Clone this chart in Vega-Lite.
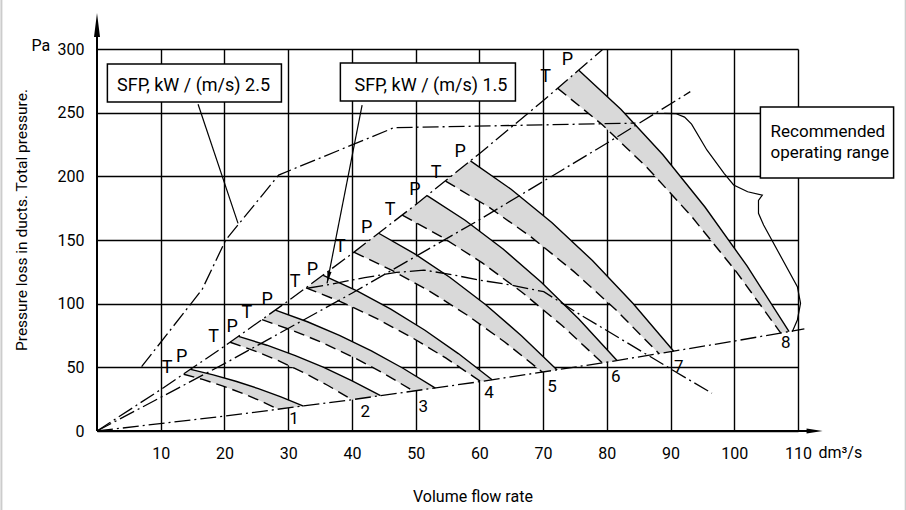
{
  "$schema": "https://vega.github.io/schema/vega-lite/v6.json",
  "width": 701,
  "height": 382,
  "autosize": {"type": "none"},
  "padding": {"left": 97, "top": 49, "right": 108, "bottom": 79},
  "background": "white",
  "config": {
    "view": {"stroke": null},
    "font": "Roboto",
    "text": {"font": "Roboto", "color": "#000"}
  },
  "datasets": {
    "bands": [
      {"c":1,"o":0,"x":14.7,"y":48.4},{"c":1,"o":1,"x":18.24,"y":44.1},{"c":1,"o":2,"x":21.78,"y":39.06},{"c":1,"o":3,"x":25.32,"y":33.28},{"c":1,"o":4,"x":28.86,"y":26.76},{"c":1,"o":5,"x":32.4,"y":19.5},
      {"c":1,"o":6,"x":28.5,"y":17.0},{"c":1,"o":7,"x":25.52,"y":23.93},{"c":1,"o":8,"x":22.54,"y":30.16},{"c":1,"o":9,"x":19.56,"y":35.68},{"c":1,"o":10,"x":16.58,"y":40.49},{"c":1,"o":11,"x":13.6,"y":44.6},
      {"c":2,"o":0,"x":22.2,"y":74.3},{"c":2,"o":1,"x":26.66,"y":67.37},{"c":2,"o":2,"x":31.12,"y":59.24},{"c":2,"o":3,"x":35.58,"y":49.92},{"c":2,"o":4,"x":40.04,"y":39.41},{"c":2,"o":5,"x":44.5,"y":27.7},
      {"c":2,"o":6,"x":40.0,"y":24.6},{"c":2,"o":7,"x":36.18,"y":35.93},{"c":2,"o":8,"x":32.36,"y":46.11},{"c":2,"o":9,"x":28.54,"y":55.13},{"c":2,"o":10,"x":24.72,"y":62.99},{"c":2,"o":11,"x":20.9,"y":69.7},
      {"c":3,"o":0,"x":28.0,"y":94.9},{"c":3,"o":1,"x":33.02,"y":85.8},{"c":3,"o":2,"x":38.04,"y":75.12},{"c":3,"o":3,"x":43.06,"y":62.88},{"c":3,"o":4,"x":48.08,"y":49.08},{"c":3,"o":5,"x":53.1,"y":33.7},
      {"c":3,"o":6,"x":49.7,"y":31.3},{"c":3,"o":7,"x":44.94,"y":45.39},{"c":3,"o":8,"x":40.18,"y":58.05},{"c":3,"o":9,"x":35.42,"y":69.27},{"c":3,"o":10,"x":30.66,"y":79.05},{"c":3,"o":11,"x":25.9,"y":87.4},
      {"c":4,"o":0,"x":35.5,"y":122.3},{"c":4,"o":1,"x":40.8,"y":110.08},{"c":4,"o":2,"x":46.1,"y":95.77},{"c":4,"o":3,"x":51.4,"y":79.35},{"c":4,"o":4,"x":56.7,"y":60.82},{"c":4,"o":5,"x":62.0,"y":40.2},
      {"c":4,"o":6,"x":60.2,"y":38.9},{"c":4,"o":7,"x":54.72,"y":57.36},{"c":4,"o":8,"x":49.24,"y":73.94},{"c":4,"o":9,"x":43.76,"y":88.64},{"c":4,"o":10,"x":38.28,"y":101.46},{"c":4,"o":11,"x":32.8,"y":112.4},
      {"c":5,"o":0,"x":44.2,"y":155.3},{"c":5,"o":1,"x":49.8,"y":139.32},{"c":5,"o":2,"x":55.4,"y":120.59},{"c":5,"o":3,"x":61.0,"y":99.11},{"c":5,"o":4,"x":66.6,"y":74.88},{"c":5,"o":5,"x":72.2,"y":47.9},
      {"c":5,"o":6,"x":69.9,"y":46.2},{"c":5,"o":7,"x":63.98,"y":69.87},{"c":5,"o":8,"x":58.06,"y":91.12},{"c":5,"o":9,"x":52.14,"y":109.96},{"c":5,"o":10,"x":46.22,"y":126.39},{"c":5,"o":11,"x":40.3,"y":140.4},
      {"c":6,"o":0,"x":51.8,"y":184.8},{"c":6,"o":1,"x":57.76,"y":165.53},{"c":6,"o":2,"x":63.72,"y":142.95},{"c":6,"o":3,"x":69.68,"y":117.05},{"c":6,"o":4,"x":75.64,"y":87.83},{"c":6,"o":5,"x":81.6,"y":55.3},
      {"c":6,"o":6,"x":79.3,"y":53.5},{"c":6,"o":7,"x":73.02,"y":82.64},{"c":6,"o":8,"x":66.74,"y":108.81},{"c":6,"o":9,"x":60.46,"y":132.01},{"c":6,"o":10,"x":54.18,"y":152.24},{"c":6,"o":11,"x":47.9,"y":169.5},
      {"c":7,"o":0,"x":58.6,"y":212.1},{"c":7,"o":1,"x":64.98,"y":189.85},{"c":7,"o":2,"x":71.36,"y":163.78},{"c":7,"o":3,"x":77.74,"y":133.88},{"c":7,"o":4,"x":84.12,"y":100.15},{"c":7,"o":5,"x":90.5,"y":62.6},
      {"c":7,"o":6,"x":88.2,"y":60.7},{"c":7,"o":7,"x":81.5,"y":94.76},{"c":7,"o":8,"x":74.8,"y":125.36},{"c":7,"o":9,"x":68.1,"y":152.48},{"c":7,"o":10,"x":61.4,"y":176.12},{"c":7,"o":11,"x":54.7,"y":196.3},
      {"c":8,"o":0,"x":75.6,"y":283.3},{"c":8,"o":1,"x":82.2,"y":252.76},{"c":8,"o":2,"x":88.8,"y":216.96},{"c":8,"o":3,"x":95.4,"y":175.92},{"c":8,"o":4,"x":102.0,"y":129.64},{"c":8,"o":5,"x":108.6,"y":78.1},
      {"c":8,"o":6,"x":107.3,"y":76.9},{"c":8,"o":7,"x":100.3,"y":125.18},{"c":8,"o":8,"x":93.3,"y":168.54},{"c":8,"o":9,"x":86.3,"y":206.98},{"c":8,"o":10,"x":79.3,"y":240.5},{"c":8,"o":11,"x":72.3,"y":269.1}
    ],
    "dashdot": [
      {"id":"A","x":0,"y":0},{"id":"A","x":10,"y":32.55},{"id":"A","x":20,"y":66.6},{"id":"A","x":30,"y":102.15},{"id":"A","x":40,"y":139.2},{"id":"A","x":50,"y":177.75},{"id":"A","x":60,"y":217.8},{"id":"A","x":70,"y":259.35},{"id":"A","x":79.3,"y":299.4},
      {"id":"B","x":0,"y":0},{"id":"B","x":20,"y":52.9},{"id":"B","x":40,"y":108.2},{"id":"B","x":60,"y":165.9},{"id":"B","x":80,"y":226},{"id":"B","x":93.1,"y":266.5},
      {"id":"bot","x":0,"y":0},{"id":"bot","x":20,"y":11.69},{"id":"bot","x":40,"y":24.59},{"id":"bot","x":60,"y":38.71},{"id":"bot","x":80,"y":54.05},{"id":"bot","x":100,"y":70.6},{"id":"bot","x":111,"y":80.22},
      {"id":"sfp25","x":7.0,"y":50.5},{"id":"sfp25","x":16.5,"y":111.2},{"id":"sfp25","x":20.2,"y":150},{"id":"sfp25","x":28.5,"y":201},{"id":"sfp25","x":46.6,"y":238.2},{"id":"sfp25","x":84.5,"y":241.8},
      {"id":"C","x":33.0,"y":112.1},{"id":"C","x":36.1,"y":114.7},{"id":"C","x":42,"y":120.5},{"id":"C","x":47,"y":124.5},{"id":"C","x":51.3,"y":126.4},{"id":"C","x":56,"y":122.5},{"id":"C","x":60,"y":118.5},{"id":"C","x":64.9,"y":114.7},{"id":"C","x":70.1,"y":109.4},{"id":"C","x":75.9,"y":91.1},{"id":"C","x":79,"y":81.9},{"id":"C","x":90.3,"y":47.9},{"id":"C","x":96.5,"y":29.6}
    ],
    "thin": [
      {"id":"L1","o":0,"x":15.86,"y":256.6},{"id":"L1","o":1,"x":22.13,"y":163.1},
      {"id":"L2","o":0,"x":41.6,"y":256.0},{"id":"L2","o":1,"x":36.1,"y":116.0},
      {"id":"R","o":0,"x":89.0,"y":249.5},{"id":"R","o":1,"x":90.8,"y":249.3},{"id":"R","o":2,"x":92.2,"y":246.5},{"id":"R","o":3,"x":93.3,"y":241},{"id":"R","o":4,"x":95.7,"y":220.7},{"id":"R","o":5,"x":98.4,"y":202.4},{"id":"R","o":6,"x":99.9,"y":193.2},{"id":"R","o":7,"x":102.1,"y":187.9},{"id":"R","o":8,"x":104.4,"y":185.3},{"id":"R","o":9,"x":103.8,"y":181},{"id":"R","o":10,"x":103.8,"y":171},{"id":"R","o":11,"x":104.6,"y":161.8},{"id":"R","o":12,"x":109.9,"y":113.3},{"id":"R","o":13,"x":110.4,"y":100.3},{"id":"R","o":14,"x":109.9,"y":87.2},{"id":"R","o":15,"x":109.1,"y":78.0}
    ]
  },
  "encoding": {
    "x": {"field": "x", "type": "quantitative", "scale": {"domain": [0, 110], "nice": false, "zero": false},
      "axis": {"values": [10,20,30,40,50,60,70,80,90,100,110], "grid": true, "gridColor": "#000", "gridWidth": 1.4, "gridOpacity": 1, "domain": false, "ticks": false, "tickSize": 0, "labelFontSize": 16, "labelColor": "#000", "labelFont": "Roboto", "labelPadding": 14, "labelFlush": false, "labelOverlap": false, "title": null}},
    "y": {"field": "y", "type": "quantitative", "scale": {"domain": [0, 300], "nice": false, "zero": false},
      "axis": {"values": [0,50,100,150,200,250,300], "grid": true, "gridColor": "#000", "gridWidth": 1.4, "gridOpacity": 1, "domain": false, "ticks": false, "tickSize": 0, "labelFontSize": 16, "labelColor": "#000", "labelFont": "Roboto", "labelPadding": 13, "labelFlush": false, "labelOverlap": false, "title": null}}
  },
  "layer": [
    {"data": {"name": "bands"}, "mark": {"type": "line", "filled": true, "color": "#d9d9d9", "interpolate": "linear-closed"},
      "encoding": {"detail": {"field": "c"}, "order": {"field": "o", "type": "quantitative"}}},
    {"data": {"name": "bands"}, "transform": [{"filter": "datum.o <= 5"}], "mark": {"type": "line", "color": "#000", "strokeWidth": 1.4},
      "encoding": {"detail": {"field": "c"}}},
    {"data": {"name": "bands"}, "transform": [{"filter": "datum.o >= 6"}], "mark": {"type": "line", "color": "#000", "strokeWidth": 1.4, "strokeDash": [11, 6]},
      "encoding": {"detail": {"field": "c"}}},
    {"data": {"name": "dashdot"}, "mark": {"type": "line", "color": "#000", "strokeWidth": 1.3, "strokeDash": [16, 4, 2, 4]},
      "encoding": {"detail": {"field": "id"}}},
    {"data": {"name": "thin"}, "mark": {"type": "line", "color": "#000", "strokeWidth": 1.2},
      "encoding": {"detail": {"field": "id"}, "order": {"field": "o", "type": "quantitative"}}},
    {"data": {"values": [{"x": 0, "y": 0, "x2": 112, "y2": 0}, {"x": 0, "y": 0, "x2": 0, "y2": 320}]},
      "mark": {"type": "rule", "color": "#000", "strokeWidth": 2},
      "encoding": {"x2": {"field": "x2"}, "y2": {"field": "y2"}}},
    {"data": {"values": [{"x": 0, "y": 318.9}]},
      "mark": {"type": "point", "shape": "M0,-1L0.25,1L-0.25,1Z", "size": 576, "filled": true, "color": "#000", "opacity": 1}},
    {"data": {"values": [{"x": 112.6, "y": 0}]},
      "mark": {"type": "point", "shape": "M1,0L-1,-0.3L-1,0.3Z", "size": 256, "filled": true, "color": "#000", "opacity": 1}},
    {"data": {"values": [{"x": 36.3, "y": 120.6}]},
      "mark": {"type": "point", "shape": "M0,1L0.35,-1L-0.35,-1Z", "size": 144, "angle": 11, "filled": true, "color": "#000", "opacity": 1}},
    {"data": {"values": [{"x": -15.0, "y": -62, "y2": 340}, {"x": 126.9, "y": -62, "y2": 340}]},
      "mark": {"type": "rule", "color": "#cccccc", "strokeWidth": 2},
      "encoding": {"y2": {"field": "y2"}}},
    {"data": {"values": [
        {"x": 1.63, "x2": 28.94, "y": 258.4, "y2": 288.2},
        {"x": 38.19, "x2": 65.66, "y": 259.2, "y2": 289.0},
        {"x": 104.1, "x2": 125.0, "y": 198.7, "y2": 254.5}]},
      "mark": {"type": "rect", "fill": "#fff", "stroke": "#000", "strokeWidth": 1.5},
      "encoding": {"x2": {"field": "x2"}, "y2": {"field": "y2"}}},
    {"data": {"values": [
        {"t": "SFP, kW / (m/s) 2.5", "x": 15.15, "y": 266.8},
        {"t": "SFP, kW / (m/s) 1.5", "x": 52.4, "y": 266.8}]},
      "mark": {"type": "text", "fontSize": 18, "align": "center", "baseline": "alphabetic"},
      "encoding": {"text": {"field": "t"}}},
    {"data": {"values": [
        {"t": "Recommended", "x": 105.7, "y": 231.1},
        {"t": "operating range", "x": 105.7, "y": 214.2}]},
      "mark": {"type": "text", "fontSize": 17, "align": "left", "baseline": "alphabetic"},
      "encoding": {"text": {"field": "t"}}},
    {"data": {"values": [
        {"t": "T", "x": 11.0, "y": 49.2}, {"t": "P", "x": 13.3, "y": 58.4},
        {"t": "T", "x": 18.3, "y": 74.1}, {"t": "P", "x": 21.2, "y": 81.9},
        {"t": "T", "x": 23.5, "y": 92.4}, {"t": "P", "x": 26.7, "y": 102.9},
        {"t": "T", "x": 31.1, "y": 117.3}, {"t": "P", "x": 33.8, "y": 126.4},
        {"t": "T", "x": 38.2, "y": 144.7}, {"t": "P", "x": 42.3, "y": 159.2},
        {"t": "T", "x": 46.0, "y": 173.6}, {"t": "P", "x": 49.9, "y": 189.3},
        {"t": "T", "x": 53.2, "y": 202.4}, {"t": "P", "x": 57.0, "y": 219.4},
        {"t": "T", "x": 70.4, "y": 278.3}, {"t": "P", "x": 73.8, "y": 291.4}]},
      "mark": {"type": "text", "fontSize": 18, "align": "center", "baseline": "middle"},
      "encoding": {"text": {"field": "t"}}},
    {"data": {"values": [
        {"t": "1", "x": 30.9, "y": 9.4}, {"t": "2", "x": 42.1, "y": 15.2}, {"t": "3", "x": 51.2, "y": 19.1},
        {"t": "4", "x": 61.5, "y": 29.6}, {"t": "5", "x": 71.4, "y": 34.8}, {"t": "6", "x": 81.4, "y": 42.7},
        {"t": "7", "x": 91.3, "y": 50.5}, {"t": "8", "x": 108.1, "y": 68.9}]},
      "mark": {"type": "text", "fontSize": 17, "align": "center", "baseline": "middle"},
      "encoding": {"text": {"field": "t"}}},
    {"data": {"values": [
        {"t": "Pa", "x": -8.8, "y": 302.5},
        {"t": "Volume flow rate", "x": 58.99, "y": -51.6}]},
      "mark": {"type": "text", "fontSize": 16, "align": "center", "baseline": "middle"},
      "encoding": {"text": {"field": "t"}}},
    {"data": {"values": [{"t": "dm³/s", "x": 113.2, "y": -17.3}]},
      "mark": {"type": "text", "fontSize": 16, "align": "left", "baseline": "middle"},
      "encoding": {"text": {"field": "t"}}},
    {"data": {"values": [{"t": "Pressure loss in ducts. Total pressure.", "x": -11.73, "y": 165.7}]},
      "mark": {"type": "text", "fontSize": 15.5, "align": "center", "baseline": "middle", "angle": 270},
      "encoding": {"text": {"field": "t"}}}
  ]
}
